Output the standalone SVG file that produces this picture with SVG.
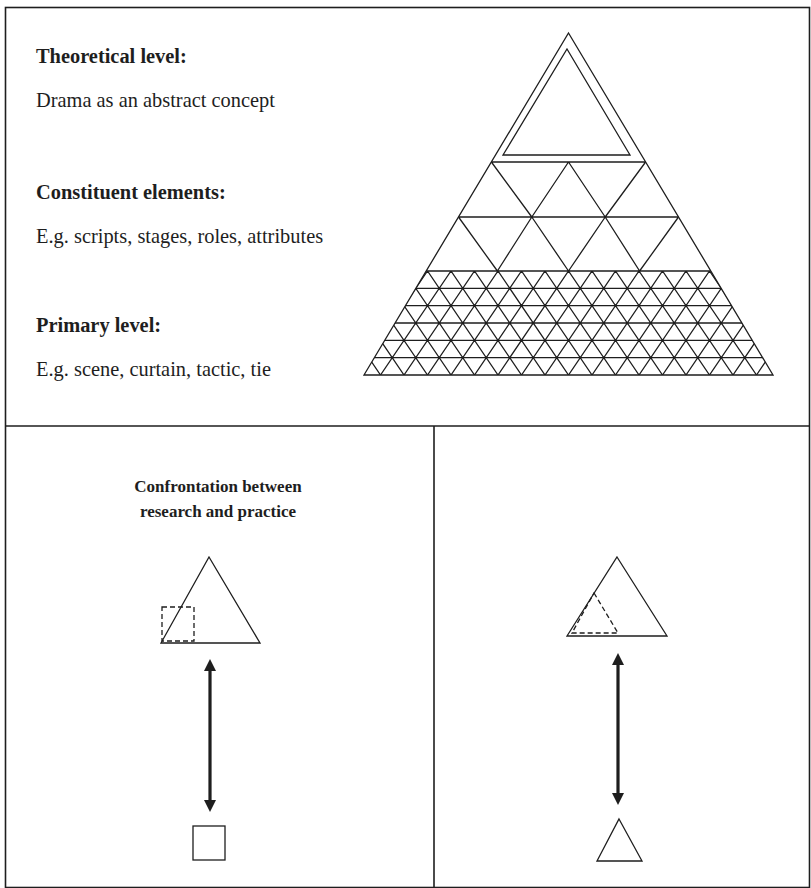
<svg xmlns="http://www.w3.org/2000/svg" width="811" height="888" viewBox="0 0 811 888">
<defs>
<style>
.ln{fill:none;stroke:#1e1e1e;stroke-width:1.3;stroke-linejoin:miter}
.fr{fill:none;stroke:#1e1e1e;stroke-width:1.6}
.ds{fill:none;stroke:#1e1e1e;stroke-width:1.3;stroke-dasharray:5 3}
.b{font-family:"Liberation Serif","Times New Roman",serif;font-weight:bold;font-size:20.4px;fill:#1e1e1e}
.r{font-family:"Liberation Serif","Times New Roman",serif;font-size:20.4px;fill:#1e1e1e}
.t{font-family:"Liberation Serif","Times New Roman",serif;font-weight:bold;font-size:17px;fill:#1e1e1e}
.ar{fill:none;stroke:#1e1e1e;stroke-width:3.2}
</style>
<marker id="ah" viewBox="0 0 12 12" markerUnits="userSpaceOnUse" markerWidth="12" markerHeight="12" refX="2" refY="6" orient="auto-start-reverse">
<path d="M0,0 L12,6 L0,12 z" fill="#1e1e1e"/>
</marker>
<clipPath id="meshclip">
<polygon points="426.2,271 710.8,271 773,375 364,375"/>
</clipPath>
</defs>
<rect width="811" height="888" fill="#fff"/>
<g id="frame">
<rect class="fr" x="5.5" y="7.5" width="804" height="880"/>
<line class="fr" x1="5.5" y1="426" x2="809.5" y2="426"/>
<line class="fr" x1="434" y1="426" x2="434" y2="887.5"/>
</g>
<g id="labels">
<g id="theoretical"><text class="b" x="36" y="63">Theoretical level:</text><text class="r" x="36" y="107">Drama as an abstract concept</text></g>
<g id="constituent"><text class="b" x="36" y="199">Constituent elements:</text><text class="r" x="36" y="243">E.g. scripts, stages, roles, attributes</text></g>
<g id="primary"><text class="b" x="36" y="332">Primary level:</text><text class="r" x="36" y="376">E.g. scene, curtain, tactic, tie</text></g>
</g>
<g id="pyramid">
<polygon class="ln" points="568.5,33 773,375 364,375"/>
<polygon class="ln" points="567,49 630,155 503,155"/>
<path class="ln" d="M491.4,162H645.6M458.5,217H678.5M426.2,271H710.8
M491.4,162L531.8,217M568.5,162L531.8,217M568.5,162L605.2,217M645.6,162L605.2,217
M458.5,217L497.4,271M531.8,217L497.4,271M531.8,217L568.5,271M605.2,217L568.5,271M605.2,217L639.6,271M678.5,217L639.6,271"/>
<g id="mesh" clip-path="url(#meshclip)">
<path class="ln" d="M300,288.33H800M300,305.67H800M300,323H800M300,340.33H800M300,357.67H800
M286.5,271l-70.5,104M310,271l-70.5,104M333.5,271l-70.5,104M357,271l-70.5,104M380.5,271l-70.5,104M404,271l-70.5,104M427.5,271l-70.5,104M451,271l-70.5,104M474.5,271l-70.5,104M498,271l-70.5,104M521.5,271l-70.5,104M545,271l-70.5,104M568.5,271l-70.5,104M592,271l-70.5,104M615.5,271l-70.5,104M639,271l-70.5,104M662.5,271l-70.5,104M686,271l-70.5,104M709.5,271l-70.5,104M733,271l-70.5,104M756.5,271l-70.5,104M780,271l-70.5,104M803.5,271l-70.5,104M827,271l-70.5,104M850.5,271l-70.5,104
M286.5,271l70.5,104M310,271l70.5,104M333.5,271l70.5,104M357,271l70.5,104M380.5,271l70.5,104M404,271l70.5,104M427.5,271l70.5,104M451,271l70.5,104M474.5,271l70.5,104M498,271l70.5,104M521.5,271l70.5,104M545,271l70.5,104M568.5,271l70.5,104M592,271l70.5,104M615.5,271l70.5,104M639,271l70.5,104M662.5,271l70.5,104M686,271l70.5,104M709.5,271l70.5,104M733,271l70.5,104M756.5,271l70.5,104M780,271l70.5,104"/>
</g>
</g>
<g id="confrontation-title">
<text class="t" x="218" y="492" text-anchor="middle">Confrontation between</text>
<text class="t" x="218" y="517" text-anchor="middle">research and practice</text>
</g>
<g id="left-top">
<polygon class="ln" points="209,557 260,643 161,643"/>
<rect class="ds" x="162" y="607" width="32" height="34"/>
</g>
<g id="left-bottom">
<rect class="ln" x="193" y="826" width="32" height="34"/>
</g>
<g id="right-top">
<polygon class="ln" points="617,557 667,636 567,636"/>
<polygon class="ds" points="594,593 618,633 572,633"/>
</g>
<g id="right-bottom">
<polygon class="ln" points="619,819 642,861 597,861"/>
</g>
<g id="connectors">
<line class="ar" x1="210" y1="669" x2="210" y2="802" marker-start="url(#ah)" marker-end="url(#ah)"/>
<line class="ar" x1="618" y1="663" x2="618" y2="795" marker-start="url(#ah)" marker-end="url(#ah)"/>
</g>
</svg>
